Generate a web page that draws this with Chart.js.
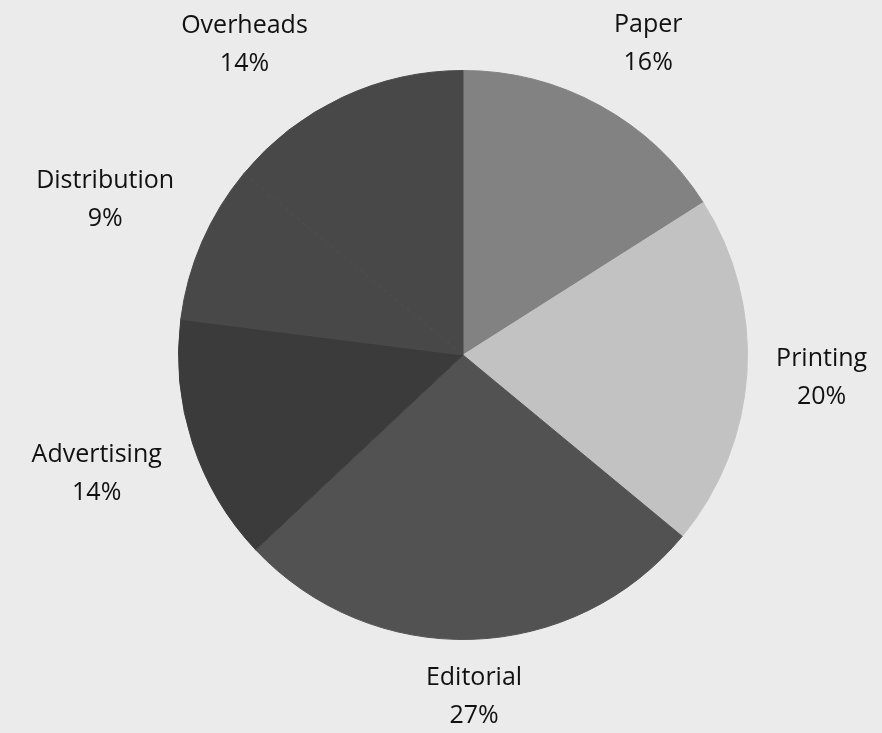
<!DOCTYPE html>
<html>
<head>
<meta charset="utf-8">
<title>Cost breakdown</title>
<script src="https://cdn.jsdelivr.net/npm/chart.js@4/dist/chart.umd.min.js"></script>
<style>
    html, body { margin: 0; padding: 0; background: #ebebeb; }
    #wrap { width: 882px; height: 733px; }
</style>
</head>
<body>
<div id="wrap"><canvas id="costChart" width="882" height="733"></canvas></div>
<script>
const categories = ['Paper', 'Printing', 'Editorial', 'Advertising', 'Distribution', 'Overheads'];
const shares = [16, 20, 27, 14, 9, 14];
const shareLabels = ['16%', '20%', '27%', '14%', '9%', '14%'];

const sliceColors = ['#828282', '#c2c2c2', '#525252', '#3b3b3b', '#484848', '#484848'];

const FONT = '25px "Open Sans", Lato, sans-serif';
const LINE_HEIGHT = 38;
const GAP = 27;

// draws "name / percent" outside each slice, sliding it round the pie if it would leave the canvas
const outsideLabels = {
    id: 'outsideLabels',
    afterDatasetsDraw(chart) {
        const ctx = chart.ctx;
        const meta = chart.getDatasetMeta(0);
        const W = chart.width;
        const H = chart.height;

        ctx.save();
        ctx.font = FONT;
        ctx.fillStyle = '#111';
        ctx.textAlign = 'center';
        ctx.textBaseline = 'middle';

        meta.data.forEach((arc, i) => {
            const { x, y, startAngle, endAngle, outerRadius } = arc.getProps(['x', 'y', 'startAngle', 'endAngle', 'outerRadius'], true);
            const lines = [categories[i], shareLabels[i]];
            const w = Math.max(...lines.map(t => ctx.measureText(t).width));
            const h = LINE_HEIGHT * 2;

            const place = (a) => {
                const dx = Math.cos(a);
                const dy = Math.sin(a);
                const dist = outerRadius + GAP + Math.abs(dx) * w / 2 + Math.abs(dy) * h / 2;
                return { cx: x + dx * dist, cy: y + dy * dist };
            };
            const fits = (p) => p.cy - h / 2 >= 4 && p.cx - w / 2 >= 0 && p.cx + w / 2 <= W;

            const mid = (startAngle + endAngle) / 2;
            let pos = place(mid);
            for (let step = 1; step <= 40 && !fits(pos); step++) {
                const d = step * Math.PI / 180;
                const back = place(mid - d);
                if (fits(back)) { pos = back; break; }
                const fwd = place(mid + d);
                if (fits(fwd)) { pos = fwd; break; }
            }
            pos.cy = Math.min(pos.cy, H - h / 2 + 2);

            ctx.fillText(lines[0], pos.cx, pos.cy - LINE_HEIGHT / 2);
            ctx.fillText(lines[1], pos.cx, pos.cy + LINE_HEIGHT / 2);
        });
        ctx.restore();
    }
};

new Chart(document.getElementById('costChart').getContext('2d'), {
    type: 'pie',
    data: {
        labels: categories,
        datasets: [{
            data: shares,
            backgroundColor: sliceColors,
            // same-colour border hides the hairline seam between neighbouring slices
            borderColor: sliceColors,
            borderWidth: 1,
        }],
    },
    options: {
        responsive: false,
        animation: false,
        layout: {
            padding: { top: 70, bottom: 93, left: 44, right: 0 },
        },
        plugins: {
            legend: { display: false },
            tooltip: { enabled: false },
        },
    },
    plugins: [outsideLabels],
});
</script>
</body>
</html>
